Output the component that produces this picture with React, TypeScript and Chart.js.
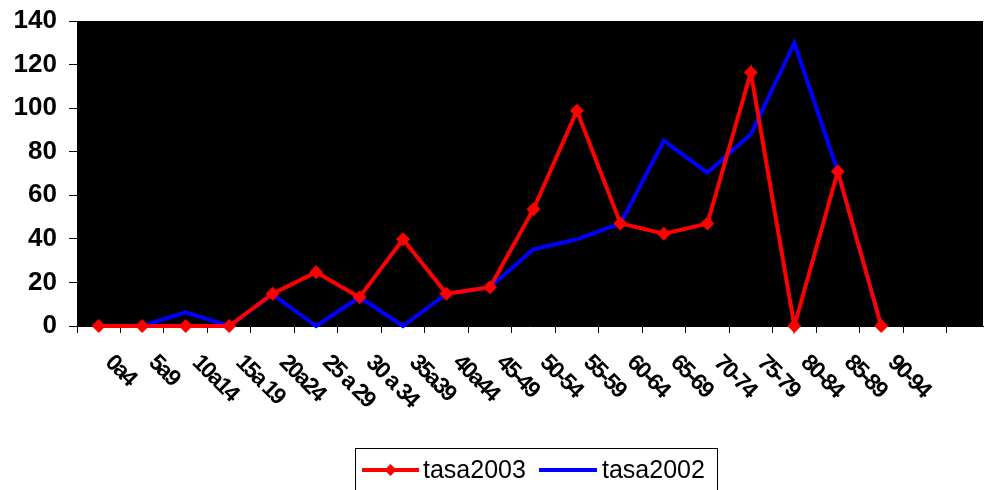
import { useEffect, useRef } from "react";
import { Chart, registerables } from "chart.js";

Chart.register(...registerables);

const categories = [
  "0a4", "5a9", "10a14", "15a 19", "20a24", "25 a 29", "30 a 34", "35a39", "40a44",
  "45-49", "50-54", "55-59", "60-64", "65-69", "70-74", "75-79", "80-84", "85-89", "90-94",
];
const tasa2003 = [0, 0, 0, 0, 14.8, 24.7, 13.2, 39.8, 14.8, 17.8, 53.6, 98.8, 47.1, 42.4, 47.0, 116.4, 0, 70.9, 0];
const tasa2002 = [0, 0, 6.3, 0, 14.5, 0, 13.2, 0, 14.8, 17.8, 35.2, 39.8, 47.1, 85.0, 70.4, 88.0, 129.9, 71.0, 0];
const seriesNames = ["tasa2003", "tasa2002"];
const yMin = 0;
const yMax = 140;
const yStep = 20;
const slotCount = 20.84; // visible category slots (chart is cropped at the right)

const FONT = '"Liberation Sans", Arial, sans-serif';

const blackArea = {
  id: "blackArea",
  beforeDraw(chart: any) {
    const { ctx, chartArea: a } = chart;
    ctx.save();
    ctx.fillStyle = "#000";
    ctx.fillRect(a.left, a.top, a.right - a.left, a.bottom - a.top);
    ctx.restore();
  },
};

const customText = {
  id: "customText",
  afterDraw(chart: any) {
    const { ctx } = chart;
    const xs = chart.scales.x;
    // rotated category labels
    ctx.save();
    ctx.fillStyle = "#000";
    ctx.font = `bold 23px ${FONT}`;
    try { (ctx as any).letterSpacing = "-2px"; } catch (e) {}
    ctx.textAlign = "left";
    ctx.textBaseline = "middle";
    categories.forEach((c, i) => {
      const x = xs.getPixelForValue(i + 0.5);
      ctx.save();
      ctx.translate(x + 10, xs.top + 33);
      ctx.rotate(Math.PI / 4);
      ctx.fillText(c, 0, 0);
      ctx.restore();
    });
    try { (ctx as any).letterSpacing = "0px"; } catch (e) {}
    ctx.restore();

    // legend
    const ds = chart.data.datasets;
    ctx.save();
    ctx.strokeStyle = "#000";
    ctx.lineWidth = 1;
    ctx.strokeRect(355.5, 448.5, 362, 60);
    const cy = 470;
    const items = [
      { x0: 362, x1: 419, tx: 423, d: ds[0] },
      { x0: 539, x1: 597, tx: 602, d: ds[1] },
    ];
    items.forEach((it) => {
      ctx.strokeStyle = it.d.borderColor;
      ctx.lineWidth = 4;
      ctx.beginPath();
      ctx.moveTo(it.x0, cy);
      ctx.lineTo(it.x1, cy);
      ctx.stroke();
      if (it.d.pointRadius > 0) {
        const mx = (it.x0 + it.x1) / 2;
        const r = 6;
        ctx.fillStyle = it.d.borderColor;
        ctx.beginPath();
        ctx.moveTo(mx, cy - r);
        ctx.lineTo(mx + r, cy);
        ctx.lineTo(mx, cy + r);
        ctx.lineTo(mx - r, cy);
        ctx.closePath();
        ctx.fill();
      }
      ctx.fillStyle = "#000";
      ctx.font = `25px ${FONT}`;
      ctx.textAlign = "left";
      ctx.textBaseline = "middle";
      ctx.fillText(it.d.label, it.tx, cy + 1);
    });
    ctx.restore();
  },
};

export default function App() {
  const ref = useRef<HTMLCanvasElement | null>(null);

  useEffect(() => {
    document.body.style.margin = "0";
    const canvas = ref.current;
    if (!canvas) return;
    const toPoints = (arr: number[]) => arr.map((v, i) => ({ x: i + 0.5, y: v }));
    const chart = new Chart(canvas, {
      type: "line",
      data: {
        datasets: [
          {
            label: seriesNames[0],
            data: toPoints(tasa2003),
            borderColor: "#ff0000",
            backgroundColor: "#ff0000",
            borderWidth: 4,
            pointStyle: "rectRot",
            pointRadius: 7,
            pointBorderWidth: 0,
            pointBackgroundColor: "#ff0000",
            tension: 0,
            clip: false as any,
          },
          {
            label: seriesNames[1],
            data: toPoints(tasa2002),
            borderColor: "#0000ff",
            backgroundColor: "#0000ff",
            borderWidth: 4,
            pointRadius: 0,
            tension: 0,
            clip: false as any,
          },
        ],
      },
      options: {
        animation: false,
        responsive: false,
        events: [],
        layout: { padding: { top: 21, left: 0, right: 0, bottom: 0 } },
        plugins: {
          legend: { display: false },
          tooltip: { enabled: false },
          title: { display: false },
        },
        scales: {
          x: {
            type: "linear",
            min: 0,
            max: slotCount,
            afterBuildTicks: (scale: any) => {
              const t = [];
              for (let i = 0; i <= Math.floor(slotCount); i++) t.push({ value: i });
              scale.ticks = t;
            },
            afterFit: (scale: any) => {
              scale.height = 164;
              scale.paddingLeft = 0;
              scale.paddingRight = 0;
            },
            grid: { drawOnChartArea: false, drawTicks: true, tickLength: 7, color: "#000", lineWidth: 1 },
            border: { display: true, color: "#000" },
            ticks: { display: false },
          },
          y: {
            min: yMin,
            max: yMax,
            afterFit: (scale: any) => {
              scale.width = 77;
              scale.paddingTop = 0;
              scale.paddingBottom = 0;
            },
            grid: { drawOnChartArea: false, drawTicks: true, tickLength: 8, color: "#000", lineWidth: 1 },
            border: { display: true, color: "#000" },
            ticks: {
              stepSize: yStep,
              color: "#000",
              padding: 12,
              font: { family: FONT, size: 26, weight: "bold" },
            },
          },
        },
      },
      plugins: [blackArea, customText],
    } as any);
    return () => chart.destroy();
  }, []);

  return (
    <div style={{ width: 990, height: 490, background: "#fff" }}>
      <canvas ref={ref} width={990} height={490} style={{ display: "block" }} />
    </div>
  );
}
